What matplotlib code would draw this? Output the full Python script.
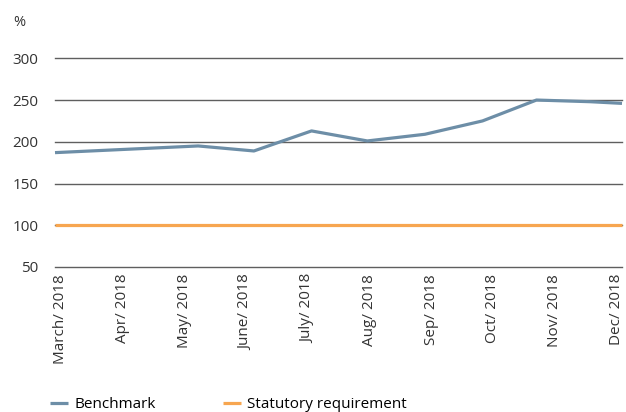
import matplotlib
matplotlib.use("Agg")
import matplotlib.pyplot as plt
import matplotlib.dates as mdates
import numpy as np

plt.rcParams['font.family'] = ['Open Sans', 'DejaVu Sans']

# Data
bench_dates = ['2018-03-01', '2018-05-17', '2018-06-16', '2018-07-17', '2018-08-16',
               '2018-09-16', '2018-10-17', '2018-11-15', '2018-12-14', '2018-12-31']
bench_values = [187, 195, 189, 213, 201, 209, 225, 250, 248, 246]
statutory_value = 100
tick_labels = ['March/ 2018', 'Apr/ 2018', 'May/ 2018', 'June/ 2018', 'July/ 2018',
               'Aug/ 2018', 'Sep/ 2018', 'Oct/ 2018', 'Nov/ 2018', 'Dec/ 2018']
y_ticks = [50, 100, 150, 200, 250, 300]

dates = np.array(bench_dates, dtype='datetime64[D]')
xnum = mdates.date2num(dates.astype('datetime64[s]').astype(object))
xmin, xmax = xnum[0], xnum[-1]

fig = plt.figure(figsize=(6.26, 4.12), dpi=100)
ax = fig.add_axes([55/626, 1-267/412, (622-55)/626, (267-58.3)/412])

ax.set_xlim(xmin, xmax)
ax.set_ylim(50, 300)

for y in y_ticks:
    ax.axhline(y, color='#5f5f5f', lw=1.0, zorder=1, clip_on=False)

ax.plot(xnum, bench_values, color='#6d8ea7', lw=2.3, solid_capstyle='butt',
        zorder=3, clip_on=False, label='Benchmark')
ax.plot([xmin, xmax], [statutory_value, statutory_value], color='#f7a650', lw=2.3,
        solid_capstyle='butt', zorder=2, clip_on=False, label='Statutory requirement')

ax.set_yticks(y_ticks)
ax.set_yticklabels([str(v) for v in y_ticks], fontsize=11, color='#333333')
ax.set_xticks(np.linspace(xmin + 3, xmax - 3, len(tick_labels)))
ax.set_xticklabels(tick_labels, rotation=90, fontsize=11, color='#333333', va='top', ha='center')
ax.tick_params(axis='both', length=0)
ax.tick_params(axis='y', pad=12)
ax.tick_params(axis='x', pad=5)
for s in ax.spines.values():
    s.set_visible(False)

fig.text(13/626, 1-22/412, '%', fontsize=10.5, color='#333333', va='center', ha='left')

fig.legend(loc='center left', bbox_to_anchor=(50/626, 7/412), ncol=2, frameon=False,
           fontsize=11, handlelength=1.2, handletextpad=0.4, columnspacing=4.4,
           borderaxespad=0, borderpad=0)

fig.savefig('out.png', dpi=100, facecolor='white')
